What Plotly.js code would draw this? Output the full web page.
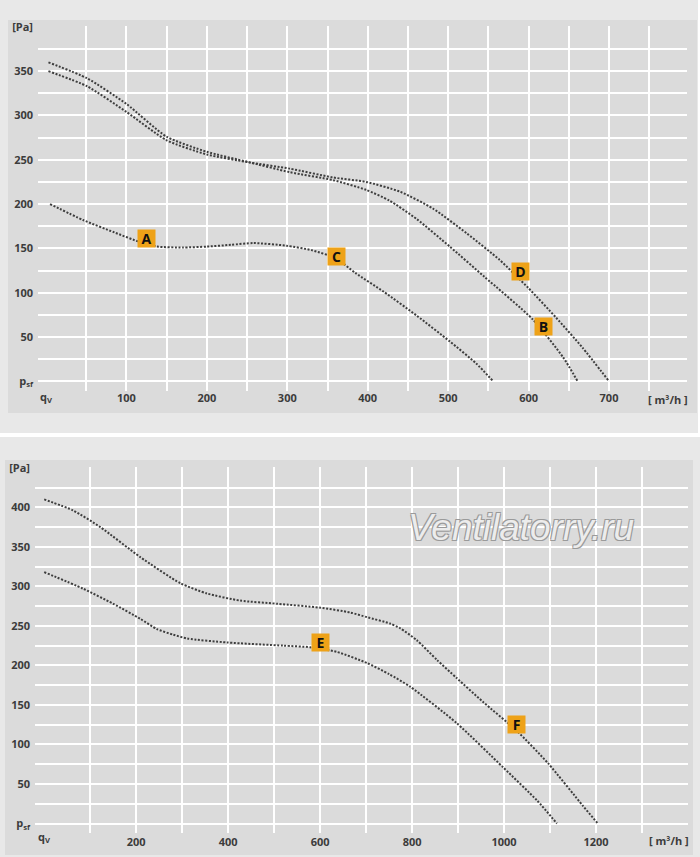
<!DOCTYPE html>
<html>
<head>
<meta charset="utf-8">
<script src="https://cdn.plot.ly/plotly-3.0.1.min.js"></script>
<style>
  body { margin: 0; background: #ffffff; }
  .wrap { position: relative; width: 698px; background: #e8e8e8; }
  .panel { position: absolute; background: #dbdbdb; }
  .chart { position: absolute; left: 0; top: 0; }
</style>
</head>
<body>
<div class="wrap" id="wrapTop" style="height:433px;">
  <div class="panel" style="left:8px; top:20px; width:689px; height:393px;"></div>
  <div class="chart" id="chartTop"></div>
</div>
<div style="height:4px;"></div>
<div class="wrap" id="wrapBottom" style="height:420px; width:700px;">
  <div class="panel" style="left:5px; top:23px; width:688px; height:395px;"></div>
  <div class="chart" id="chartBottom"></div>
</div>
<script>
// верхний график: кривые A/C, B, D (q в м3/ч, p в Па)
const curveAC_q = [5, 46, 85, 117, 138, 170, 200, 230, 258, 299, 330, 360, 385, 420, 461, 502, 535, 556];
const curveAC_p = [200, 182, 168, 157, 152, 151, 152, 154, 156, 153, 148, 139, 122, 101, 74, 45, 20, 0];
const curveB_q = [3, 51, 100, 150, 200, 249, 303, 357, 398, 427, 461, 502, 545, 605, 643, 661];
const curveB_p = [360, 342, 313, 276, 259, 248, 236, 227, 216, 204, 183, 152, 118, 70, 27, 0];
const curveD_q = [3, 51, 100, 150, 200, 253, 303, 357, 398, 440, 481, 523, 564, 600, 634, 667, 700];
const curveD_p = [350, 333, 304, 272, 256, 247, 240, 230, 225, 214, 195, 167, 137, 105, 72, 38, 0];
const topLabels = ['A', 'C', 'D', 'B'];
const topLabelQ = [125, 361, 590, 619];
const topLabelP = [161, 141, 124, 62];
const topXTicks = [100, 200, 300, 400, 500, 600, 700];
const topYTicks = [50, 100, 150, 200, 250, 300, 350];

// нижний график: кривые E, F
const curveE_q = [0, 85, 150, 209, 245, 280, 311, 398, 520, 578, 637, 702, 750, 796, 897, 998, 1072, 1115];
const curveE_p = [318, 297, 278, 259, 246, 239, 234, 229, 225, 223, 217, 203, 189, 173, 127, 71, 29, 0];
const curveF_q = [0, 63, 122, 209, 296, 354, 426, 507, 600, 665, 702, 752, 774, 810, 854, 897, 954, 1028, 1096, 1172, 1204];
const curveF_p = [410, 396, 375, 337, 304, 291, 282, 278, 273, 267, 261, 253, 247, 232, 207, 184, 154, 117, 76, 22, 0];
const bottomLabels = ['E', 'F'];
const bottomLabelQ = [600, 1026];
const bottomLabelP = [229, 125];
const bottomXTicks = [200, 400, 600, 800, 1000, 1200];
const bottomYTicks = [50, 100, 150, 200, 250, 300, 350, 400];

const tickFont = { family: 'Open Sans', size: 11, color: '#3c3c3c', weight: 'bold' };
const dotLine = { color: '#3e3e3e', width: 2, dash: '2px,1.6px', shape: 'spline', smoothing: 0.6 };

function curve(q, p) {
    return { x: q, y: p, type: 'scatter', mode: 'lines', line: dotLine, hoverinfo: 'skip' };
}

// сетка: каждые 25 Па, подписи каждые 50
function yAxis(maxP, labels, range) {
    const vals = [], text = [];
    for (let v = 0; v <= maxP; v += 25) {
        vals.push(v);
        if (v === 0) text.push('p<sub>sf</sub>');
        else if (v === maxP) text.push('[Pa]');
        else text.push(labels.indexOf(v) >= 0 ? String(v) : '');
    }
    return {
        range: range, tickmode: 'array', tickvals: vals, ticktext: text,
        showgrid: true, gridcolor: '#ffffff', gridwidth: 2,
        zeroline: false, showline: false, ticks: '', tickfont: tickFont,
        ticklabelstandoff: 4, fixedrange: true
    };
}

function xAxis(step, maxQ, labels, range, standoff) {
    const vals = [], text = [];
    for (let v = step; v <= maxQ; v += step) {
        vals.push(v);
        text.push(labels.indexOf(v) >= 0 ? String(v) : '');
    }
    return {
        range: range, tickmode: 'array', tickvals: vals, ticktext: text,
        showgrid: true, gridcolor: '#ffffff', gridwidth: 2,
        zeroline: false, showline: false, ticks: '', tickfont: tickFont,
        ticklabelstandoff: standoff, fixedrange: true
    };
}

function letterBoxes(names, qs, ps) {
    return names.map((n, i) => ({
        x: qs[i], y: ps[i], xref: 'x', yref: 'y', text: '<b>' + n + '</b>',
        showarrow: false, bgcolor: '#eea218', borderpad: 1, width: 15, height: 15,
        font: { family: 'Open Sans', size: 14, color: '#111111' }
    }));
}

function axisNotes(shiftQ, shiftUnit) {
    return [
        { x: 0, y: 0, xref: 'x', yref: 'paper', yanchor: 'top', yshift: shiftQ,
          text: 'q<sub>V</sub>', showarrow: false, font: tickFont },
        { x: 1, y: 0, xref: 'paper', yref: 'paper', xanchor: 'right', yanchor: 'top',
          xshift: 3, yshift: shiftUnit, text: '[ m³/h ]', showarrow: false, font: tickFont }
    ];
}

const topData = [curve(curveAC_q, curveAC_p), curve(curveB_q, curveB_p), curve(curveD_q, curveD_p)];
const topLayout = {
    width: 700, height: 433,
    margin: { l: 38, r: 13, t: 26, b: 42 },
    paper_bgcolor: 'rgba(0,0,0,0)', plot_bgcolor: 'rgba(0,0,0,0)',
    showlegend: false,
    xaxis: xAxis(50, 750, topXTicks, [-10, 797], -1),
    yaxis: yAxis(400, topYTicks, [-11, 401]),
    annotations: letterBoxes(topLabels, topLabelQ, topLabelP).concat(axisNotes(4, 1))
};

const bottomData = [curve(curveE_q, curveE_p), curve(curveF_q, curveF_p)];
const bottomLayout = {
    width: 700, height: 420,
    margin: { l: 35, r: 12, t: 30, b: 24 },
    paper_bgcolor: 'rgba(0,0,0,0)', plot_bgcolor: 'rgba(0,0,0,0)',
    showlegend: false,
    xaxis: xAxis(100, 1300, bottomXTicks, [-20, 1400], 1),
    yaxis: yAxis(450, bottomYTicks, [-12, 451]),
    annotations: letterBoxes(bottomLabels, bottomLabelQ, bottomLabelP).concat(axisNotes(6, 2)).concat([{
        x: 1037, y: 375, xref: 'x', yref: 'y', text: 'Ventilatorry.ru', showarrow: false,
        font: { family: 'Liberation Sans', size: 37, style: 'italic', color: '#ececec',
                shadow: '-1px -1px 0 #9a9a9a, 1px -1px 0 #9a9a9a, -1px 1px 0 #9a9a9a, 1px 1px 0 #9a9a9a' }
    }])
};

Plotly.newPlot('chartTop', topData, topLayout, { displayModeBar: false, staticPlot: true });
Plotly.newPlot('chartBottom', bottomData, bottomLayout, { displayModeBar: false, staticPlot: true });
</script>
</body>
</html>
